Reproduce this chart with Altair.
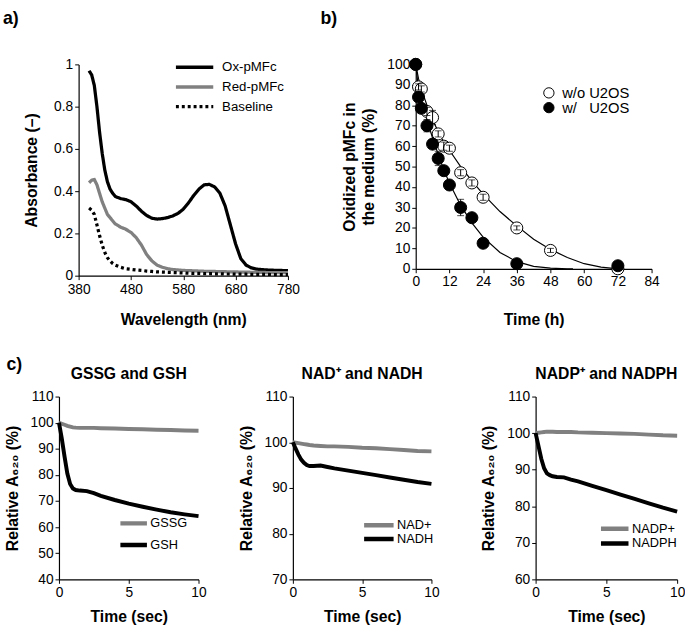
import altair as alt
import pandas as pd

FONT = "Liberation Sans"

# ---------------- Panel a: absorbance spectra ----------------
WL = [400, 405, 410, 415, 420, 425, 430, 435, 440, 445, 450, 460, 470, 480, 490, 500,
      510, 520, 530, 540, 550, 560, 570, 580, 590, 600, 610, 620, 630, 640, 650, 660,
      670, 680, 690, 700, 710, 720, 740, 760, 780]
OX = [0.97, 0.95, 0.90, 0.80, 0.68, 0.58, 0.50, 0.445, 0.41, 0.39, 0.375, 0.365, 0.36,
      0.35, 0.33, 0.305, 0.285, 0.272, 0.268, 0.27, 0.275, 0.283, 0.295, 0.315, 0.345,
      0.38, 0.41, 0.43, 0.432, 0.42, 0.39, 0.33, 0.24, 0.15, 0.08, 0.05, 0.037, 0.031,
      0.027, 0.025, 0.024]
RED = [0.44, 0.452, 0.455, 0.43, 0.39, 0.35, 0.32, 0.29, 0.275, 0.26, 0.245, 0.23, 0.22,
       0.205, 0.18, 0.145, 0.10, 0.07, 0.05, 0.04, 0.033, 0.029, 0.027, 0.025, 0.024,
       0.023, 0.022, 0.021, 0.02, 0.02, 0.019, 0.019, 0.018, 0.018, 0.017, 0.017, 0.016,
       0.016, 0.015, 0.015, 0.014]
BASE = [0.32, 0.31, 0.29, 0.24, 0.19, 0.145, 0.11, 0.085, 0.07, 0.058, 0.05, 0.04, 0.033,
        0.03, 0.027, 0.025, 0.022, 0.02, 0.018, 0.017, 0.016, 0.015, 0.014, 0.013, 0.012,
        0.011, 0.011, 0.01, 0.01, 0.009, 0.009, 0.008, 0.008, 0.007, 0.007, 0.007, 0.006,
        0.006, 0.006, 0.005, 0.005]
SER_A = ["Ox-pMFc", "Red-pMFc", "Baseline"]

# ---------------- Panel b: oxidized pMFc over time ----------------
T_WO = [0, 1, 2, 4, 6, 8, 10, 12, 16, 20, 24, 36, 48, 72]
V_WO = [100, 89, 88, 77, 74, 66, 60, 59, 47, 42, 35, 20, 9, 0]
SD_WO = [0, 1.5, 1.5, 2, 3.5, 1.5, 2, 1.5, 1.5, 1.5, 1.5, 1, 1, 0.5]
T_W = [0, 1, 2, 4, 6, 8, 10, 12, 16, 20, 24, 36, 72]
V_W = [100, 84, 78.5, 70, 61, 54, 48, 41, 30, 25, 12.5, 2.5, 1.5]
SD_W = [0, 2, 1.5, 3, 2, 3.5, 2, 1.5, 4, 1, 1, 1, 1]
FIT_T_WO = [0, 1, 2, 3, 4, 6, 8, 10, 12, 16, 20, 24, 30, 36, 42, 48, 54, 60, 66, 72]
FIT_WO = [100, 93, 88, 84, 80, 73, 67, 62, 58, 50, 43, 36.5, 28, 21, 14.5, 9.5, 5.5, 2.5, 0.8, 0]
FIT_T_W = [0, 1, 2, 3, 4, 6, 8, 10, 12, 16, 20, 24, 30, 36, 42, 48, 54, 56]
FIT_W = [100, 88, 82, 77, 73, 64, 56, 48.5, 42, 31, 22.5, 15.5, 8, 3.5, 1.2, 0.3, 0, 0]
SER_B = ["w/o U2OS", "w/\u00a0\u00a0\u00a0U2OS"]

# ---------------- Panel c: relative A620 ----------------
T_C = [0, 0.2, 0.4, 0.6, 0.8, 1.0, 1.2, 1.5, 2, 2.5, 3, 4, 5, 6, 7, 8, 9, 10]
GSSG = [100, 99.6, 99.2, 98.8, 98.5, 98.2, 98.1, 98.0, 98.0, 98.0, 97.9, 97.8, 97.6, 97.5, 97.3, 97.2, 97.0, 96.9]
GSH = [100, 94, 87, 80.5, 76.5, 74.8, 74.2, 74.0, 73.8, 73.0, 72.0, 70.4, 69.0, 67.8, 66.7, 65.7, 64.9, 64.2]
NAD_OX = [100, 99.9, 99.8, 99.7, 99.6, 99.5, 99.4, 99.3, 99.2, 99.1, 99.1, 99.0, 98.8, 98.7, 98.5, 98.3, 98.1, 98.0]
NADH = [100, 98.6, 97.3, 96.2, 95.5, 95.0, 94.8, 94.8, 94.9, 94.6, 94.3, 93.8, 93.3, 92.8, 92.3, 91.8, 91.3, 90.9]
NADPP = [100, 100.1, 100.2, 100.3, 100.4, 100.4, 100.4, 100.3, 100.3, 100.3, 100.2, 100.1, 100.0, 99.9, 99.8, 99.6, 99.4, 99.3]
NADPH = [100, 96.5, 93.0, 90.4, 89.0, 88.5, 88.2, 88.0, 87.9, 87.3, 86.8, 85.6, 84.4, 83.2, 82.0, 80.8, 79.6, 78.5]
X_TICKS_C = [0, 5, 10]


def ax(title, values, tp, fmt=None, **kw):
    args = dict(title=title, values=values, grid=False, domainColor="black",
                tickColor="black", labelColor="black", titleColor="black",
                labelFont=FONT, titleFont=FONT, labelFontSize=14, titleFontSize=16,
                titleFontWeight="bold", tickSize=4, labelPadding=2, titlePadding=tp,
                labelFlush=False, labelOverlap=False, domainWidth=1.2)
    if fmt:
        args["format"] = fmt
    args.update(kw)
    return alt.Axis(**args)


def panel_label(txt, dx, dy):
    return alt.Chart(pd.DataFrame({"k": [0]})).mark_text(
        align="left", baseline="top", fontSize=18, fontWeight="bold", font=FONT, color="black"
    ).encode(x=alt.value(dx), y=alt.value(dy), text=alt.value(txt))


# ---- panel a (view is 20px wider on the left so that its origin lines up with panel c's)
A_SHIFT = 20
n = len(WL)
a_df = pd.DataFrame({"wl": WL * 3, "A": OX + RED + BASE,
                     "series": [SER_A[0]] * n + [SER_A[1]] * n + [SER_A[2]] * n})
leg_a = alt.Legend(title=None, orient="none", legendX=97 + A_SHIFT, legendY=-7, symbolType="stroke",
                   symbolSize=1444, symbolStrokeWidth=3.5, clipHeight=20, labelOffset=7,
                   labelFontSize=13.5, labelFont=FONT, labelColor="black", rowPadding=0, padding=0)
lines_a = alt.Chart(a_df).mark_line(strokeWidth=3.3).encode(
    x=alt.X("wl:Q", scale=alt.Scale(domain=[380, 780], nice=False, range=[A_SHIFT, 213 + A_SHIFT]),
            axis=ax("Wavelength (nm)", [380, 480, 580, 680, 780], 16, labelPadding=3)),
    y=alt.Y("A:Q", scale=alt.Scale(domain=[0, 1], nice=False),
            axis=ax("Absorbance (–)", [0, 0.2, 0.4, 0.6, 0.8, 1], 14, fmt="~g", offset=-A_SHIFT)),
    color=alt.Color("series:N", scale=alt.Scale(domain=SER_A, range=["black", "#808080", "black"]), legend=leg_a),
    strokeDash=alt.StrokeDash("series:N", scale=alt.Scale(domain=SER_A, range=[[1, 0], [1, 0], [3, 3]]), legend=leg_a),
)
panel_a = alt.layer(lines_a, panel_label("a)", -57, -55)).properties(width=213 + A_SHIFT, height=215)

# ---- panel b
pts = pd.DataFrame({
    "t": T_WO + T_W, "v": V_WO + V_W,
    "lo": [v - s for v, s in zip(V_WO, SD_WO)] + [v - s for v, s in zip(V_W, SD_W)],
    "hi": [v + s for v, s in zip(V_WO, SD_WO)] + [v + s for v, s in zip(V_W, SD_W)],
    "sd": SD_WO + SD_W,
    "series": [SER_B[0]] * len(T_WO) + [SER_B[1]] * len(T_W),
})
fit = pd.DataFrame({"t": FIT_T_WO + FIT_T_W, "v": FIT_WO + FIT_W,
                    "series": [SER_B[0]] * len(FIT_T_WO) + [SER_B[1]] * len(FIT_T_W)})
XB_SCALE = alt.Scale(domain=[0, 84], nice=False)
YB_SCALE = alt.Scale(domain=[0, 100], nice=False)
XB_AXIS = ax("Time (h)", list(range(0, 85, 12)), 24)
YB_AXIS = ax(["Oxidized pMFc in", "the medium (%)"], list(range(0, 101, 10)), 11, titleLineHeight=19)


def xb(field):
    return alt.X(field, scale=XB_SCALE, axis=XB_AXIS)


def yb(field):
    return alt.Y(field, scale=YB_SCALE, axis=YB_AXIS)


fit_line = alt.Chart(fit).mark_line(color="black", strokeWidth=1.2).encode(
    x=xb("t:Q"), y=yb("v:Q"), detail="series:N")
leg_b = alt.Legend(title=None, orient="none", legendX=128, legendY=22, symbolType="circle",
                   symbolSize=110, symbolStrokeColor="black", symbolStrokeWidth=1, clipHeight=14,
                   labelOffset=6, labelFontSize=15, labelFont=FONT, labelColor="black",
                   rowPadding=0, padding=0)
points = alt.Chart(pts).mark_point(filled=True, size=150, stroke="black", strokeWidth=1, opacity=1).encode(
    x=xb("t:Q"), y=yb("v:Q"),
    fill=alt.Fill("series:N", scale=alt.Scale(domain=SER_B, range=["white", "black"]), legend=leg_b),
)
err = pts[pts["sd"] > 0]
rules = alt.Chart(err).mark_rule(color="black", strokeWidth=1).encode(
    x=xb("t:Q"), y=yb("lo:Q"), y2="hi:Q")
cap_lo = alt.Chart(err).mark_tick(orient="horizontal", size=7, thickness=1, color="black").encode(
    x=xb("t:Q"), y=yb("lo:Q"))
cap_hi = alt.Chart(err).mark_tick(orient="horizontal", size=7, thickness=1, color="black").encode(
    x=xb("t:Q"), y=yb("hi:Q"))
panel_b = alt.layer(fit_line, points, rules, cap_lo, cap_hi, panel_label("b)", -97, -55)).properties(width=240, height=208)


# ---- panel c
def panel_c(title, s1, s2, v1, v2, ydom, width, lx, ly, lsize, lclip):
    m = len(T_C)
    df = pd.DataFrame({"t": T_C * 2, "v": v1 + v2, "series": [s1] * m + [s2] * m})
    leg = alt.Legend(title=None, orient="none", legendX=lx, legendY=ly, symbolType="stroke",
                     symbolSize=lsize, symbolStrokeWidth=4.5, clipHeight=lclip, labelOffset=1,
                     labelFontSize=13, labelFont=FONT, labelColor="black", rowPadding=0, padding=0)
    return alt.Chart(df).mark_line(strokeWidth=4).encode(
        x=alt.X("t:Q", scale=alt.Scale(domain=[0, 10], nice=False), axis=ax("Time (sec)", X_TICKS_C, 10)),
        y=alt.Y("v:Q", scale=alt.Scale(domain=ydom, nice=False),
                axis=ax("Relative A₆₂₀ (%)", list(range(ydom[0], ydom[1] + 1, 10)), 10)),
        color=alt.Color("series:N", scale=alt.Scale(domain=[s1, s2], range=["#808080", "black"]), legend=leg),
    ).properties(
        width=width, height=186,
        title=alt.TitleParams(title, fontSize=16, font=FONT, fontWeight="bold", color="black",
                              offset=8, anchor="middle"))


c1 = panel_c("GSSG and GSH", "GSSG", "GSH", GSSG, GSH, [40, 110], 142, 60, 118, 729, 22)
c2 = panel_c("NAD⁺ and NADH", "NAD+", "NADH", NAD_OX, NADH, [70, 110], 141, 70, 124, 900, 14)
c3 = panel_c("NADP⁺ and NADPH", "NADP+", "NADPH", NADPP, NADPH, [60, 110], 144, 64, 127, 784, 15)

top = alt.hconcat(panel_a, panel_b, spacing=21).resolve_scale(
    color="independent", strokeDash="independent", fill="independent")
c12 = alt.hconcat(c1, c2, spacing=32).resolve_scale(color="independent")
bottom = alt.hconcat(
    c12, c3, spacing=42,
    title=alt.TitleParams("c)", anchor="start", fontSize=18, fontWeight="bold", font=FONT,
                          color="black", offset=-8, dx=2),
).resolve_scale(color="independent")

chart = alt.vconcat(top, bottom, spacing=29).resolve_scale(
    color="independent", strokeDash="independent", fill="independent"
).properties(
    padding={"left": 3, "top": 5, "right": 0, "bottom": 0}, background="white"
).configure_view(strokeWidth=0)

chart.save("out.html", embed_options={"renderer": "svg", "actions": False})
